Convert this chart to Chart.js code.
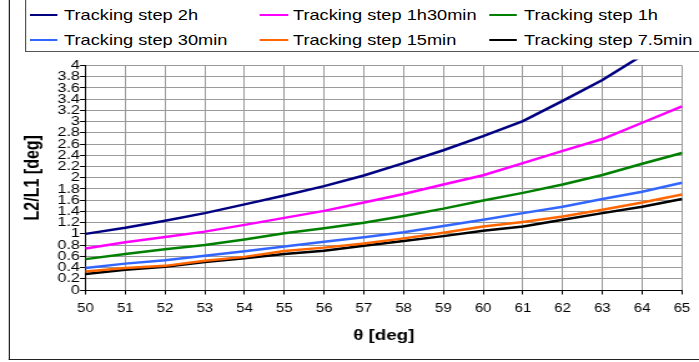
<!DOCTYPE html>
<html>
<head>
<meta charset="utf-8">
<script src="https://cdn.jsdelivr.net/npm/chart.js@4"></script>
<style>
  html, body { margin: 0; padding: 0; background: #fff; }
  #stage { position: relative; width: 699px; height: 362px; overflow: hidden; background: #fff; }
  #inner { position: absolute; left: 0; top: 0; width: 560px; height: 362px; transform: scaleX(1.2482); transform-origin: 0 0; }
  #outerBorder { position: absolute; left: 7.2px; top: -10px; width: 700px; height: 370px; box-sizing: border-box; border-left: 1.2px solid #222; border-bottom: 1.6px solid #222; }
  #c { position: absolute; left: 0; top: 0; }
  #legend { position: absolute; left: 20px; top: -5px; width: 700px; height: 57px; box-sizing: border-box; border: 1px solid #555; background: #fff; font-family: 'Liberation Sans', Arial, sans-serif; font-size: 14.6px; color: #000; }
  .sw { position: absolute; height: 2.4px; }
  .lt { position: absolute; line-height: 18px; white-space: nowrap; }
</style>
</head>
<body>
<div id="stage">
  <div id="inner">
    <div id="outerBorder"></div>
    <canvas id="c" width="560" height="362"></canvas>
    <div id="legend"></div>
  </div>
</div>
<script>
// ---- data ----
const thetaDeg = [50, 51, 52, 53, 54, 55, 56, 57, 58, 59, 60, 61, 62, 63, 64, 65];
const seriesNames = ['Tracking step 2h', 'Tracking step 1h30min', 'Tracking step 1h',
                     'Tracking step 30min', 'Tracking step 15min', 'Tracking step 7.5min'];
const step2h     = [1.00, 1.11, 1.235, 1.37, 1.525, 1.685, 1.85, 2.04, 2.26, 2.49, 2.74, 3.01, 3.37, 3.74, 4.18, null];
const step1h30   = [0.74, 0.85, 0.945, 1.04, 1.16, 1.285, 1.41, 1.56, 1.71, 1.88, 2.045, 2.26, 2.48, 2.69, 2.98, 3.27];
const step1h     = [0.55, 0.64, 0.725, 0.80, 0.90, 1.01, 1.10, 1.20, 1.32, 1.45, 1.595, 1.73, 1.88, 2.05, 2.25, 2.44];
const step30min  = [0.39, 0.47, 0.53, 0.61, 0.69, 0.775, 0.86, 0.94, 1.03, 1.14, 1.25, 1.37, 1.485, 1.62, 1.75, 1.91];
const step15min  = [0.33, 0.39, 0.43, 0.52, 0.59, 0.695, 0.755, 0.83, 0.92, 1.02, 1.13, 1.21, 1.31, 1.43, 1.56, 1.70];
const step7_5min = [0.285, 0.36, 0.415, 0.50, 0.565, 0.64, 0.70, 0.79, 0.875, 0.96, 1.055, 1.13, 1.25, 1.37, 1.485, 1.62];
const xTickLabels = ['50', '51', '52', '53', '54', '55', '56', '57', '58', '59', '60', '61', '62', '63', '64', '65'];
const yTickLabels = ['0', '0.2', '0.4', '0.6', '0.8', '1', '1.2', '1.4', '1.6', '1.8', '2',
                     '2.2', '2.4', '2.6', '2.8', '3', '3.2', '3.4', '3.6', '3.8', '4'];
const xTitle = 'θ [deg]';
const yTitle = 'L2/L1 [deg]';

// ---- styles ----
const seriesValues = [step2h, step1h30, step1h, step30min, step15min, step7_5min];
const seriesColors = ['#000080', '#ff00ff', '#008000', '#3366ff', '#ff6600', '#000000'];

const FONT = "'Liberation Sans', Arial, sans-serif";
Chart.defaults.font.family = FONT;
Chart.defaults.color = '#000';

const datasets = seriesValues.map((vals, i) => ({
  label: seriesNames[i],
  data: thetaDeg.map((x, j) => ({ x: x, y: vals[j] })),
  borderColor: seriesColors[i],
  backgroundColor: seriesColors[i],
  borderWidth: 2.5,
  pointRadius: 0,
  tension: 0,
  fill: false,
  spanGaps: false,
  order: i,
  clip: { left: 2, top: 6, right: 2, bottom: 2 }
}));

new Chart(document.getElementById('c'), {
  type: 'line',
  data: { datasets: datasets },
  options: {
    responsive: false,
    animation: false,
    devicePixelRatio: 1,
    layout: { padding: { left: 0, top: 65.5, right: 6, bottom: 0 } },
    plugins: { legend: { display: false }, tooltip: { enabled: false } },
    scales: {
      x: {
        type: 'linear',
        min: 50, max: 65,
        afterFit: (s) => { s.height = 72; },
        ticks: {
          stepSize: 1, autoSkip: false, maxRotation: 0, padding: 7,
          font: { size: 12 },
          callback: (v, i) => xTickLabels[i]
        },
        grid: { color: '#9a9a9a', lineWidth: 1, tickColor: '#000', tickLength: 4.5 },
        border: { color: '#000', width: 1 },
        title: { display: true, text: xTitle, font: { size: 15, weight: 'bold' }, padding: { top: 0, bottom: 17 } }
      },
      y: {
        type: 'linear',
        min: 0, max: 4,
        afterFit: (s) => { s.width = 68.5; },
        ticks: {
          stepSize: 0.2, autoSkip: false, padding: 0,
          font: { size: 13 },
          callback: (v, i) => yTickLabels[i]
        },
        grid: { color: '#9a9a9a', lineWidth: 1, tickColor: '#000', tickLength: 4.4 },
        border: { color: '#000', width: 1 },
        title: { display: true, text: yTitle, font: { size: 16, weight: 'bold' }, padding: { top: 16.8, bottom: 0 } }
      }
    }
  }
});

// ---- legend (HTML text, built from the series arrays) ----
const legend = document.getElementById('legend');
const colLine = [24, 208.3, 391.8];
const colText = [51.3, 234.7, 419.8];
const rowY = [20, 45]; // row centres measured from legend box top
seriesNames.forEach((name, i) => {
  const col = i % 3, row = Math.floor(i / 3);
  const sw = document.createElement('div');
  sw.className = 'sw';
  sw.style.left = (colLine[col] - 20 - 1) + 'px';
  sw.style.width = '22.4px';
  sw.style.top = (rowY[row] - 1.2 - 1) + 'px';
  sw.style.background = seriesColors[i];
  legend.appendChild(sw);
  const t = document.createElement('div');
  t.className = 'lt';
  t.style.left = (colText[col] - 20 - 1) + 'px';
  t.style.top = (rowY[row] - 9 - 1) + 'px';
  t.textContent = name;
  legend.appendChild(t);
});
</script>
</body>
</html>
